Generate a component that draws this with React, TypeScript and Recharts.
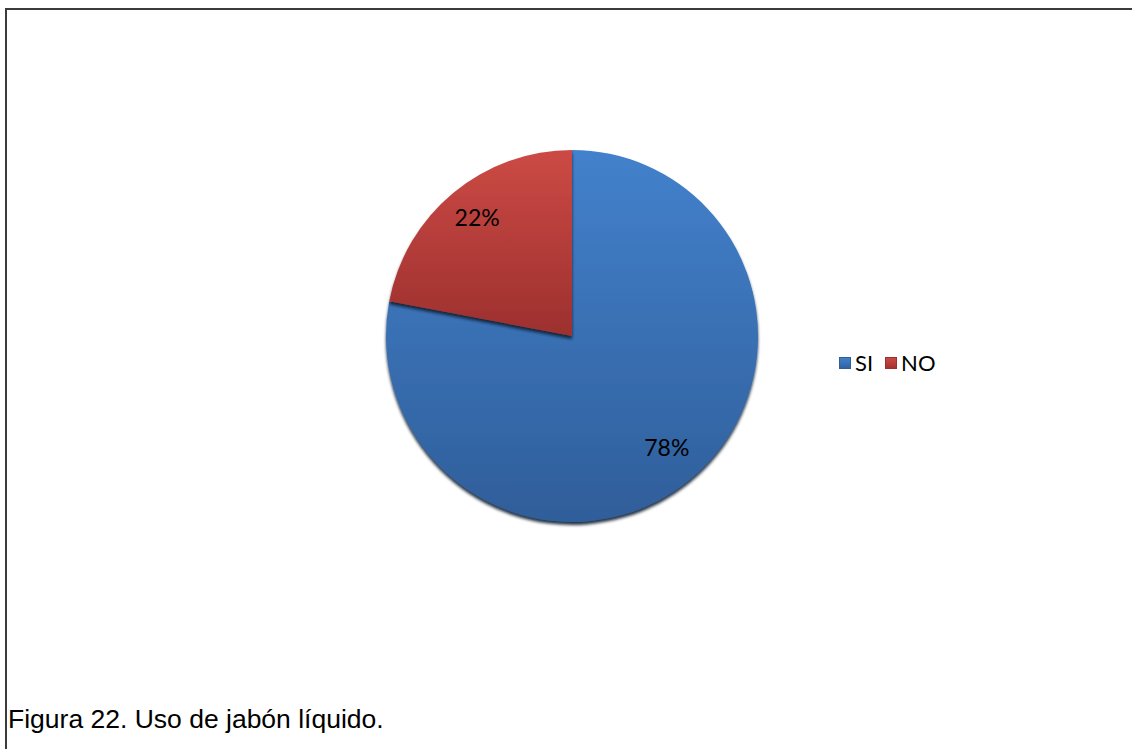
import { Cell, Legend, Pie, PieChart } from "recharts";

const categories = ["SI", "NO"];
const percents = [78, 22];
const colors = ["#3a6fb3", "#b43c39"];
const gradients = [
  ["#4381cc", "#2f5e9a"],
  ["#cc4a45", "#9c302e"],
];

const data = categories.map((name, i) => ({ name, value: percents[i] }));

const RAD = Math.PI / 180;

function renderLabel(props: any) {
  const { cx, cy, midAngle, outerRadius, value } = props;
  const r = outerRadius * 0.8;
  const x = cx + r * Math.cos(-midAngle * RAD);
  const y = cy + r * Math.sin(-midAngle * RAD) - 4;
  return (
    <text
      x={x}
      y={y}
      textAnchor="middle"
      dominantBaseline="central"
      fill="#000"
      fontSize={23}
      fontFamily="Lato, 'Open Sans', sans-serif"
    >
      {value}%
    </text>
  );
}

function LegendContent() {
  return (
    <div style={{ display: "flex", alignItems: "center", fontFamily: "Lato, 'Open Sans', sans-serif", fontSize: 22 }}>
      {categories.map((c, i) => (
        <div key={c} style={{ display: "flex", alignItems: "center", marginRight: 12 }}>
          <span
            style={{
              display: "inline-block",
              width: 12,
              height: 12,
              marginRight: 4,
              background: `linear-gradient(180deg, ${gradients[i][0]} 0%, ${colors[i]} 60%, ${gradients[i][1]} 100%)`,
              boxShadow: `inset 0 0 0 1px ${gradients[i][1]}`,
            }}
          />
          <span style={{ color: "#000" }}>{c}</span>
        </div>
      ))}
    </div>
  );
}

export default function App() {
  return (
    <div
      style={{
        position: "absolute",
        left: 0,
        top: 0,
        width: 1132,
        height: 749,
        overflow: "hidden",
        background: "#fff",
      }}
    >
      <div
        style={{
          position: "absolute",
          left: 5,
          top: 8,
          width: 1160,
          height: 800,
          border: "2px solid #3c3c3c",
          boxSizing: "border-box",
        }}
      />
      <div style={{ position: "absolute", left: 0, top: 0 }}>
        <PieChart width={1132} height={700} margin={{ top: 0, right: 0, bottom: 0, left: 0 }}>
          <defs>
            {gradients.map((g, i) => (
              <linearGradient key={i} id={`grad${i}`} x1="0" y1="0" x2="0" y2="1">
                <stop offset="0%" stopColor={g[0]} />
                <stop offset="100%" stopColor={g[1]} />
              </linearGradient>
            ))}
            <filter id="pieShadow" x="-20%" y="-20%" width="140%" height="140%">
              <feDropShadow dx="0" dy="3" stdDeviation="1.5" floodColor="#0b1a33" floodOpacity="0.9" />
            </filter>
          </defs>
          <Pie
            data={data}
            dataKey="value"
            nameKey="name"
            cx={572}
            cy={336}
            outerRadius={186}
            startAngle={90}
            endAngle={-270}
            stroke="none"
            label={renderLabel}
            labelLine={false}
            isAnimationActive={false}
            style={{ filter: "url(#pieShadow)" }}
          >
            {data.map((d, i) => (
              <Cell key={d.name} fill={`url(#grad${i})`} />
            ))}
          </Pie>
          <Legend
            content={<LegendContent />}
            wrapperStyle={{ position: "absolute", left: 839, top: 349, width: 220 }}
          />
        </PieChart>
      </div>
      <div
        style={{
          position: "absolute",
          left: 8,
          top: 704,
          fontFamily: "Arial, 'Liberation Sans', sans-serif",
          fontSize: 26.5,
          color: "#000",
          whiteSpace: "nowrap",
        }}
      >
        Figura 22. Uso de jabón líquido.
      </div>
    </div>
  );
}
